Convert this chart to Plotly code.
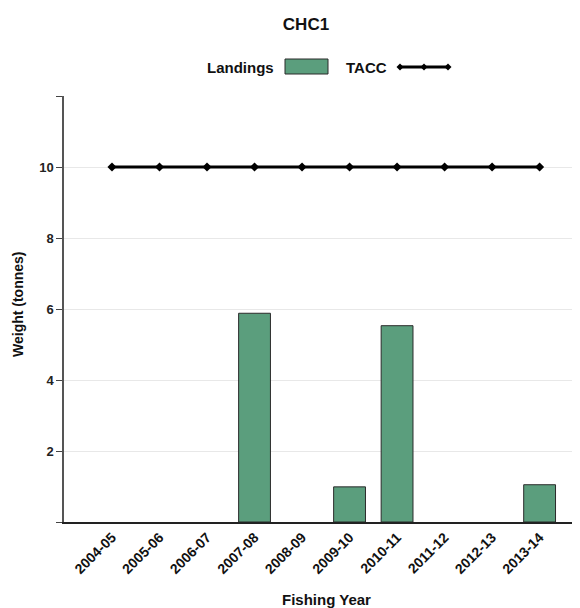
import plotly.graph_objects as go

years = ["2004-05", "2005-06", "2006-07", "2007-08", "2008-09",
         "2009-10", "2010-11", "2011-12", "2012-13", "2013-14"]
landings = [0, 0, 0, 5.88, 0, 0.99, 5.53, 0, 0, 1.05]
tacc = [10, 10, 10, 10, 10, 10, 10, 10, 10, 10]
y_tickvals = [0, 2, 4, 6, 8, 10, 12]
y_ticktext = ["", "<b>2</b>", "<b>4</b>", "<b>6</b>", "<b>8</b>", "<b>10</b>", ""]
x_ticktext = ["<b>%s</b>" % y for y in years]

BAR = "#5b9e7d"
FONT = "Liberation Sans, Arial, sans-serif"
OFF = 8  # page body margin
W, H = 580 - OFF, 608 - OFF
L, R, T, B = 64 - OFF, 0, 96 - OFF, 86
PW, PH = W - L - R, H - T - B


def px(x):
    return (x - OFF - L) / PW


def py(y):
    return (H - B - (y - OFF)) / PH


bar_line = ["rgba(0,0,0,0)" if v == 0 else "#2b2b2b" for v in landings]

fig = go.Figure()
fig.add_trace(go.Bar(
    x=years, y=landings, name="Landings", width=0.67,
    marker=dict(color=BAR, line=dict(color=bar_line, width=1)),
    showlegend=False,
))
fig.add_trace(go.Scatter(
    x=years, y=tacc, name="TACC", mode="lines+markers",
    line=dict(color="black", width=3),
    marker=dict(symbol="diamond", size=7, color="black"),
    showlegend=False,
))

# custom legend (text before symbol, as in the reference)
fig.add_annotation(xref="paper", yref="paper", x=px(276), y=py(67),
                   text="<b>Landings</b>", showarrow=False, xanchor="right", yanchor="middle",
                   font=dict(family=FONT, size=15, color="#111"))
fig.add_shape(type="rect", xref="paper", yref="paper",
              x0=px(285), x1=px(328), y0=py(74), y1=py(59),
              fillcolor=BAR, line=dict(color="#2b2b2b", width=1))
fig.add_annotation(xref="paper", yref="paper", x=px(344), y=py(67),
                   text="<b>TACC</b>", showarrow=False, xanchor="left", yanchor="middle",
                   font=dict(family=FONT, size=15, color="#111"))
fig.add_shape(type="line", xref="paper", yref="paper",
              x0=px(400), x1=px(448), y0=py(67), y1=py(67),
              line=dict(color="black", width=3))
for mx in (400, 424, 448):
    fig.add_shape(type="path", xref="paper", yref="paper",
                  path="M {a},{b} L {c},{d} L {a},{e} L {f},{d} Z".format(
                      a=px(mx), b=py(63.5), c=px(mx + 3.5), d=py(67),
                      e=py(70.5), f=px(mx - 3.5)),
                  fillcolor="black", line=dict(color="black", width=0))

# axis titles
fig.add_annotation(xref="paper", yref="paper", x=px(326), y=py(599),
                   text="<b>Fishing Year</b>", showarrow=False, xanchor="center", yanchor="middle",
                   font=dict(family=FONT, size=15, color="#111"))
fig.add_annotation(xref="paper", yref="paper", x=px(18), y=py(304),
                   text="<b>Weight (tonnes)</b>", showarrow=False, xanchor="center", yanchor="middle",
                   textangle=-90, font=dict(family=FONT, size=14, color="#111"))

fig.update_layout(
    width=W, height=H,
    margin=dict(l=L, r=R, t=T, b=B, autoexpand=False),
    paper_bgcolor="white", plot_bgcolor="white",
    title=dict(text="<b>CHC1</b>", x=(306 - OFF) / W, xanchor="center", y=1 - (24 - OFF) / H,
               yanchor="middle", font=dict(family=FONT, size=17, color="#111"), automargin=False),
    font=dict(family=FONT, color="#222"),
)
fig.update_xaxes(
    type="category", range=[-1.01, 9.85], showgrid=False, showline=True, linecolor="#222", linewidth=1.5,
    tickangle=-45, ticks="", tickvals=years, ticktext=x_ticktext,
    tickfont=dict(family=FONT, size=14, color="#111"), automargin=False,
)
fig.update_yaxes(
    range=[0, 12], tickvals=y_tickvals, ticktext=y_ticktext,
    showgrid=True, gridcolor="#e8e8e8", gridwidth=1, zeroline=False,
    showline=True, linecolor="#555", linewidth=1.5, ticks="outside", ticklen=6, tickcolor="#444",
    tickfont=dict(family=FONT, size=13, color="#222"), automargin=False,
)

fig.write_html("out.html")
